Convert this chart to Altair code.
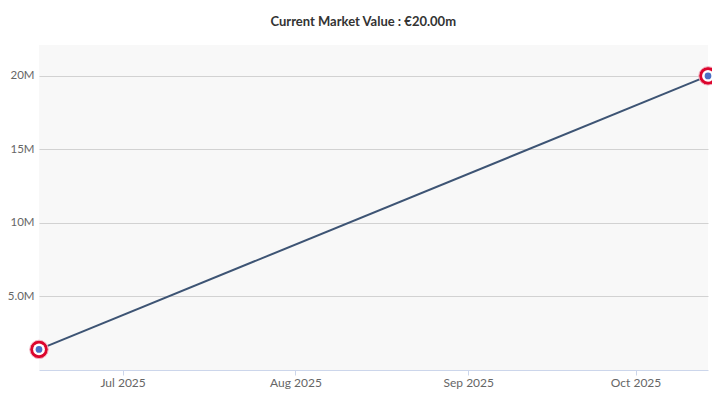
import altair as alt
import pandas as pd

dates = ["2025-06-16", "2025-10-14"]
values = [1400000, 20000000]
y_ticks = [5000000, 10000000, 15000000, 20000000]
y_labels = ["5.0M", "10M", "15M", "20M"]
x_ticks = [(2025, 7), (2025, 8), (2025, 9), (2025, 10)]

df = pd.DataFrame({"date": dates, "value": values})

label_expr = " : ".join(
    f"datum.value == {v} ? '{l}'" for v, l in zip(y_ticks, y_labels)
) + " : ''"

x_scale = alt.Scale(
    type="utc",
    domain=[alt.DateTime(year=2025, month=6, date=16, utc=True),
            alt.DateTime(year=2025, month=10, date=14, utc=True)],
)
y_scale = alt.Scale(domain=[0, 22100000], nice=False, zero=True)

x_enc = alt.X(
    "date:T",
    scale=x_scale,
    axis=alt.Axis(
        title=None,
        values=[alt.DateTime(year=y, month=m, date=1, utc=True) for y, m in x_ticks],
        format="%b %Y",
        grid=False,
        domainColor="#ccd6eb",
        tickColor="#ccd6eb",
        tickSize=5,
        labelColor="#666666",
        labelFontSize=12,
        labelFont="Lato",
        labelPadding=2,
    ),
)
y_enc = alt.Y(
    "value:Q",
    scale=y_scale,
    axis=alt.Axis(
        title=None,
        values=y_ticks,
        labelExpr=label_expr,
        domain=False,
        ticks=False,
        gridColor="#d2d2d2",
        gridWidth=1,
        labelColor="#666666",
        labelFontSize=11.5,
        labelFont="Lato",
        labelPadding=5,
    ),
)

base = alt.Chart(df)
line = base.mark_line(color="#3d5474", strokeWidth=2).encode(x=x_enc, y=y_enc)
outer = base.mark_point(filled=True, shape="circle", size=340, color="#dc052d",
                        stroke="#f2b5c4", strokeWidth=1, opacity=1, clip=False).encode(x=x_enc, y=y_enc)
inner = base.mark_point(filled=True, shape="circle", size=140, color="#ffffff",
                        opacity=1, clip=False).encode(x=x_enc, y=y_enc)
core = base.mark_point(filled=True, shape="circle", size=45, color="#4a6fc4",
                       opacity=1, clip=False).encode(x=x_enc, y=y_enc)

chart = (
    alt.layer(line, outer, inner, core)
    .properties(
        width=669,
        height=325,
        padding={"left": 31, "top": 37, "right": 4, "bottom": 20},
        autosize=alt.AutoSizeParams(type="none"),
        title=alt.TitleParams(
            "Current Market Value : €20.00m",
            font="Lato",
            fontSize=13,
            fontWeight="bold",
            color="#333333",
            anchor="middle",
            frame="bounds",
            offset=16,
        ),
        background="#ffffff",
    )
    .configure_view(fill="#f8f8f8", stroke=None)
)

chart.save("out.html", embed_options={"renderer": "svg", "actions": False})
